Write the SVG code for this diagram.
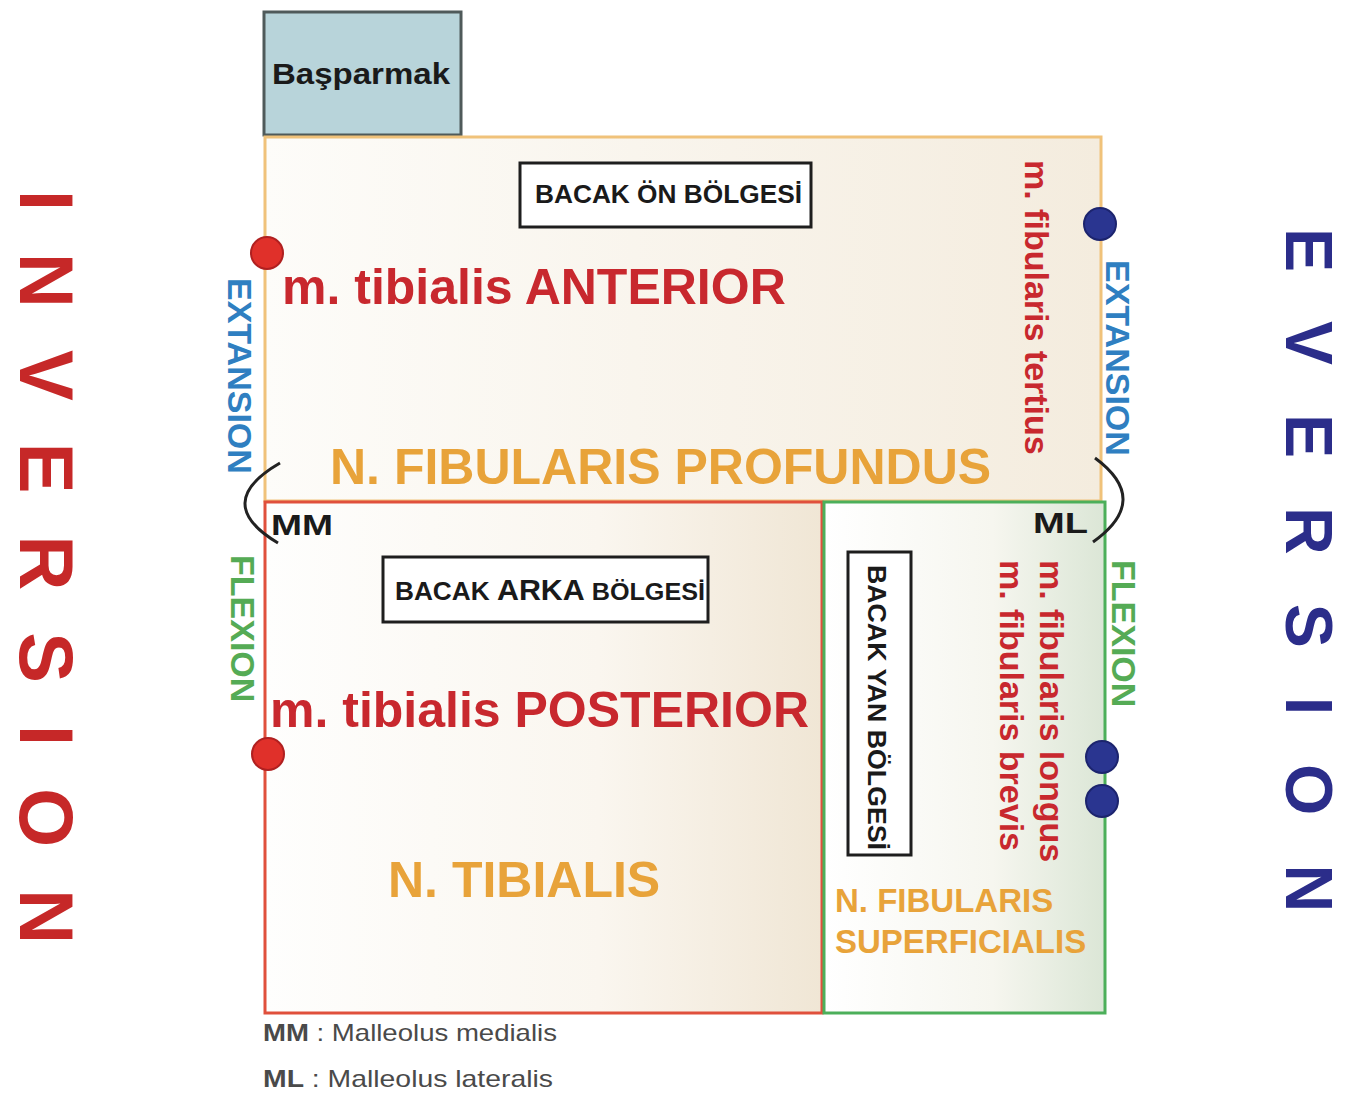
<svg xmlns="http://www.w3.org/2000/svg" width="1346" height="1095" viewBox="0 0 1346 1095">
  <defs>
    <linearGradient id="gAnt" x1="0" y1="0" x2="1" y2="0">
      <stop offset="0" stop-color="#fdfcf9"/>
      <stop offset="1" stop-color="#f4ecde"/>
    </linearGradient>
    <linearGradient id="gPost" x1="0" y1="0" x2="1" y2="0">
      <stop offset="0" stop-color="#fefefd"/>
      <stop offset="0.6" stop-color="#faf6ef"/>
      <stop offset="1" stop-color="#f0e6d5"/>
    </linearGradient>
    <linearGradient id="gLat" x1="0" y1="0" x2="1" y2="0">
      <stop offset="0" stop-color="#ffffff"/>
      <stop offset="0.6" stop-color="#f6f6ef"/>
      <stop offset="1" stop-color="#dbe6d6"/>
    </linearGradient>
    <style>
      text { font-family: "Liberation Sans", Arial, sans-serif; font-weight: bold; }
      .big { font-size: 50px; }
      .red { fill: #c8282e; }
      .org { fill: #e8a33a; }
      .blu { fill: #2f7fc1; font-size: 34px; }
      .grn { fill: #55ab55; font-size: 34px; }
      .lbl { fill: #1a1a1a; }
      .lblbox { fill: #ffffff; stroke: #1e1e1e; stroke-width: 3; }
      .rdot { fill: #e0302a; stroke: #b02020; stroke-width: 2; }
      .bdot { fill: #2a3590; stroke: #1c246e; stroke-width: 2; }
      .brk { fill: none; stroke: #222; stroke-width: 3; }
      .leg { fill: #4a4a4a; font-size: 24px; }
    </style>
  </defs>

  <g id="inversion">
    <text transform="translate(20,190) rotate(90)" font-size="76" letter-spacing="42" fill="#c62828">INVERSION</text>
  </g>
  <g id="eversion">
    <text transform="translate(1286,228) rotate(90)" font-size="66" letter-spacing="49" fill="#2b2d8a">EVERSION</text>
  </g>

  <g id="basparmak">
    <rect x="264" y="12" width="197" height="123" fill="#b8d4da" stroke="#4f5a5a" stroke-width="3"/>
    <text x="272" y="84" font-size="30" textLength="178" lengthAdjust="spacingAndGlyphs" class="lbl">Başparmak</text>
  </g>

  <g id="anterior">
    <rect x="265" y="137" width="836" height="364" fill="url(#gAnt)" stroke="#f0c27a" stroke-width="3"/>
    <rect x="520" y="163" width="291" height="64" class="lblbox"/>
    <text x="535" y="203" font-size="25" textLength="267" lengthAdjust="spacingAndGlyphs" class="lbl">BACAK ÖN BÖLGESİ</text>
    <text x="282" y="304" class="big red">m. tibialis ANTERIOR</text>
    <text x="330" y="484" class="big org">N. FIBULARIS PROFUNDUS</text>
    <text transform="translate(1025,160) rotate(90)" font-size="34" class="red">m. fibularis tertius</text>
  </g>

  <g id="posterior">
    <rect x="265" y="502" width="557" height="511" fill="url(#gPost)" stroke="#e0503c" stroke-width="3"/>
    <rect x="383" y="557" width="325" height="65" class="lblbox"/>
    <text x="395" y="600" class="lbl" textLength="310" lengthAdjust="spacingAndGlyphs"><tspan font-size="25">BACAK </tspan><tspan font-size="29">ARKA</tspan><tspan font-size="24"> BÖLGESİ</tspan></text>
    <text x="270" y="727" class="big red">m. tibialis POSTERIOR</text>
    <text x="388" y="897" class="big org">N. TIBIALIS</text>
  </g>

  <g id="lateral">
    <rect x="824" y="502" width="281" height="511" fill="url(#gLat)" stroke="#4caf5a" stroke-width="3"/>
    <rect x="848" y="552" width="63" height="303" class="lblbox"/>
    <text transform="translate(868,565) rotate(90)" font-size="26" textLength="285" lengthAdjust="spacingAndGlyphs" class="lbl">BACAK YAN BÖLGESİ</text>
    <text transform="translate(1040,560) rotate(90)" font-size="34" class="red">m. fibularis longus</text>
    <text transform="translate(1000,560) rotate(90)" font-size="34" class="red">m. fibularis brevis</text>
    <text x="835" y="912" font-size="33" class="org">N. FIBULARIS</text>
    <text x="835" y="953" font-size="33" class="org">SUPERFICIALIS</text>
  </g>

  <g id="motions">
    <text transform="translate(228,278) rotate(90)" class="blu">EXTANSION</text>
    <text transform="translate(1106,260) rotate(90)" class="blu">EXTANSION</text>
    <text transform="translate(231,555) rotate(90)" class="grn">FLEXION</text>
    <text transform="translate(1112,560) rotate(90)" class="grn">FLEXION</text>
  </g>

  <g id="malleoli">
    <path class="brk" d="M280 463 Q211 503 278 543"/>
    <path class="brk" d="M1095 458 Q1152 500 1093 542"/>
    <text x="271" y="535" font-size="30" textLength="62" lengthAdjust="spacingAndGlyphs" class="lbl">MM</text>
    <text x="1033" y="533" font-size="30" textLength="55" lengthAdjust="spacingAndGlyphs" class="lbl">ML</text>
  </g>

  <g id="attachments">
    <circle cx="267" cy="253" r="16" class="rdot"/>
    <circle cx="268" cy="754" r="16" class="rdot"/>
    <circle cx="1100" cy="224" r="16" class="bdot"/>
    <circle cx="1102" cy="757" r="16" class="bdot"/>
    <circle cx="1102" cy="801" r="16" class="bdot"/>
  </g>

  <g id="legend">
    <text x="263" y="1041" class="leg" textLength="294" lengthAdjust="spacingAndGlyphs"><tspan>MM</tspan><tspan font-weight="normal"> : Malleolus medialis</tspan></text>
    <text x="263" y="1087" class="leg" textLength="290" lengthAdjust="spacingAndGlyphs"><tspan>ML</tspan><tspan font-weight="normal">  : Malleolus lateralis</tspan></text>
  </g>
</svg>
